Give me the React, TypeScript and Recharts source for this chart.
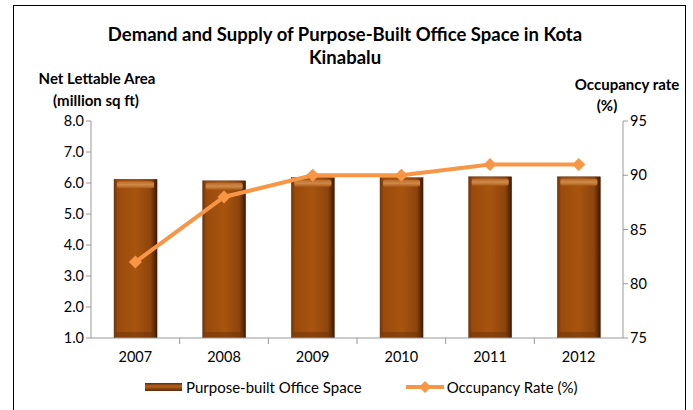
import React from "react";
import { ComposedChart, Bar, Line, XAxis, YAxis, Legend } from "recharts";

const years = ["2007", "2008", "2009", "2010", "2011", "2012"];
const officeSpace = [6.12, 6.07, 6.17, 6.17, 6.2, 6.2];
const occupancy = [82, 88, 90, 90, 91, 91];
const leftTicks = [1, 2, 3, 4, 5, 6, 7, 8];
const rightTicks = [75, 80, 85, 90, 95];

const data = years.map((y, i) => ({ year: y, space: officeSpace[i], occ: occupancy[i] }));

const FONT = "Lato, 'Open Sans', sans-serif";
const LINE_COLOR = "#F79646";

const BarShape = (props: any) => {
  const { x, y, width, height } = props;
  if (height <= 0) return null;
  return (
    <g>
      <rect x={x} y={y} width={width} height={height} fill="url(#barGrad)" stroke="#5a2a08" strokeWidth={0.5} />
      <rect x={x + 3} y={y + 2} width={width - 6} height={7} fill="url(#topGrad)" rx={2} />
      <rect x={x + 2} y={y + height - 6} width={width - 4} height={5} fill="#6b3208" opacity={0.5} />
    </g>
  );
};

const Diamond = (props: any) => {
  const { cx, cy } = props;
  if (cx == null || cy == null) return null;
  const s = 6.5;
  return <path d={`M${cx},${cy - s}L${cx + s},${cy}L${cx},${cy + s}L${cx - s},${cy}Z`} fill={LINE_COLOR} />;
};

const XTick = (props: any) => {
  const { x, y, payload, index } = props;
  const half = 532 / 6 / 2;
  return (
    <g>
      {index > 0 && <line x1={x - half} x2={x - half} y1={y - 8} y2={y - 2} stroke="#999" />}
      <text x={x} y={y + 16} textAnchor="middle" fontSize={14.5} fontFamily={FONT} fill="#000">
        {payload.value}
      </text>
    </g>
  );
};

const LegendContent = () => (
  <div style={{ display: "flex", fontFamily: FONT, fontSize: 15, color: "#000", alignItems: "center" }}>
    <svg width={40} height={12} style={{ marginLeft: 144 }}>
      <rect x={1} y={2} width={37} height={8} fill="url(#legGrad)" />
    </svg>
    <span style={{ marginLeft: 2 }}>Purpose-built Office Space</span>
    <svg width={42} height={12} style={{ marginLeft: 42 }}>
      <line x1={2} x2={40} y1={6} y2={6} stroke={LINE_COLOR} strokeWidth={4} />
      <path d="M21,0L27,6L21,12L15,6Z" fill={LINE_COLOR} />
    </svg>
    <span style={{ marginLeft: 1 }}>Occupancy Rate (%)</span>
  </div>
);

export default function App() {
  return (
    <div style={{ position: "fixed", left: 0, top: 0, width: 693, height: 410, background: "#fff" }}>
      <div
        style={{
          position: "absolute",
          left: 13,
          top: 5,
          width: 673,
          height: 420,
          border: "1.5px solid #000",
          boxSizing: "border-box",
        }}
      />
      <svg width={693} height={410} style={{ position: "absolute", left: 0, top: 0 }}>
        <g fontFamily={FONT} fill="#000" fontWeight="bold" textAnchor="middle">
          <text x={345} y={41} fontSize={18.5}>Demand and Supply of Purpose-Built Office Space in Kota</text>
          <text x={345} y={64} fontSize={18.5}>Kinabalu</text>
          <text x={97} y={84} fontSize={15}>Net Lettable Area</text>
          <text x={96} y={106} fontSize={15}>(million sq ft)</text>
          <text x={627} y={90} fontSize={15}>Occupancy rate</text>
          <text x={607} y={111} fontSize={15}>(%)</text>
        </g>
      </svg>
      <div style={{ position: "absolute", left: 0, top: 0 }}>
        <ComposedChart
          width={693}
          height={410}
          data={data}
          margin={{ top: 121, right: 20, left: 31, bottom: 24 }}
          barCategoryGap="26%"
        >
          <defs>
            <linearGradient id="barGrad" x1="0" y1="0" x2="1" y2="0">
              <stop offset="0" stopColor="#6e3408" />
              <stop offset="0.08" stopColor="#9a4a0c" />
              <stop offset="0.5" stopColor="#a8540f" />
              <stop offset="0.85" stopColor="#8e440b" />
              <stop offset="1" stopColor="#3a1a05" />
            </linearGradient>
            <linearGradient id="topGrad" x1="0" y1="0" x2="0" y2="1">
              <stop offset="0" stopColor="#b86a28" />
              <stop offset="0.5" stopColor="#d08a48" />
              <stop offset="1" stopColor="#a85a18" />
            </linearGradient>
            <linearGradient id="legGrad" x1="0" y1="0" x2="0" y2="1">
              <stop offset="0" stopColor="#5a2a08" />
              <stop offset="0.4" stopColor="#b8621a" />
              <stop offset="1" stopColor="#5a2a08" />
            </linearGradient>
          </defs>
          <XAxis
            dataKey="year"
            tick={<XTick />}
            tickLine={false}
            axisLine={{ stroke: "#999" }}
            height={30}
            interval={0}
          />
          <YAxis
            yAxisId="left"
            domain={[1, 8]}
            ticks={leftTicks}
            tickFormatter={(v: number) => v.toFixed(1)}
            axisLine={{ stroke: "#999" }}
            tickLine={{ stroke: "#999" }}
            tickSize={5}
            tick={{ fontSize: 14.5, fontFamily: FONT, fill: "#000" }}
            width={60}
            allowDataOverflow
          />
          <YAxis
            yAxisId="right"
            orientation="right"
            domain={[75, 95]}
            ticks={rightTicks}
            axisLine={{ stroke: "#999" }}
            tickLine={{ stroke: "#999" }}
            tickSize={5}
            tick={{ fontSize: 14.5, fontFamily: FONT, fill: "#000" }}
            width={50}
          />
          <Bar yAxisId="left" dataKey="space" shape={<BarShape />} isAnimationActive={false} />
          <Line
            yAxisId="right"
            dataKey="occ"
            stroke={LINE_COLOR}
            strokeWidth={4}
            dot={<Diamond />}
            activeDot={false}
            isAnimationActive={false}
          />
          <Legend content={<LegendContent />} wrapperStyle={{ position: "absolute", top: 378, left: 0, width: 693 }} />
        </ComposedChart>
      </div>
    </div>
  );
}
